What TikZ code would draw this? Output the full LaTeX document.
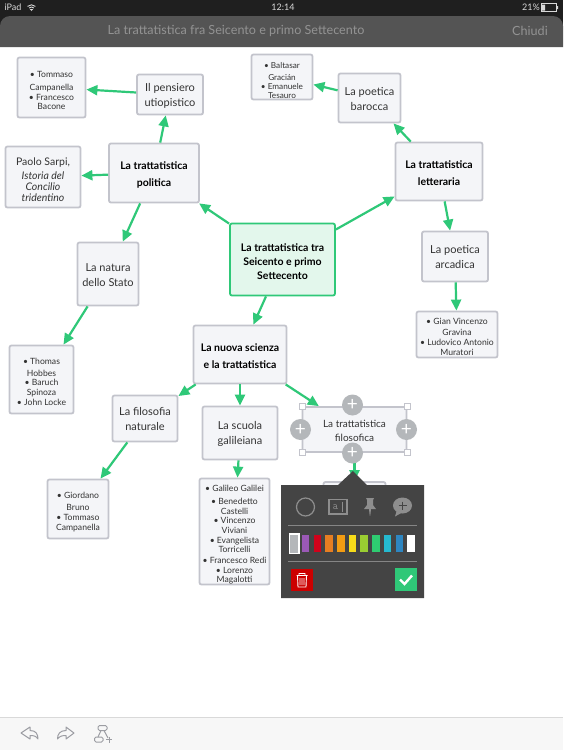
\documentclass[tikz,border=0pt]{standalone}
\usepackage{fontspec}
\setmainfont{Lato}
\usetikzlibrary{arrows.meta}
\definecolor{linkgreen}{HTML}{2FC878}
\definecolor{boxgray}{HTML}{C3C4CC}
\definecolor{boxfill}{HTML}{F4F5F8}
\definecolor{centerfill}{HTML}{E3F7EC}
\definecolor{panelgray}{HTML}{444444}
\definecolor{icongray}{HTML}{8E8E8E}
\definecolor{plusgray}{HTML}{B4B7BA}
\newcommand{\firstgap}[1]{\rule{0pt}{#1}}
\tikzset{
  plain/.style={draw=boxgray, fill=boxfill, line width=1.8pt, rounded corners=2pt, align=center, inner sep=0pt, text=black!80},
  box/.style={plain, font=\fontsize{11}{15}\selectfont},
  small/.style={plain, font=\fontsize{8.6}{9.6}\selectfont},
  main/.style={plain, font=\bfseries\fontsize{10.5}{17}\selectfont, text=black},
  link/.style={draw=linkgreen, line width=2.2pt, -{Triangle[length=11pt,width=10pt]}},
  handle/.style={draw=boxgray, fill=white, line width=0.8pt, minimum size=6pt, inner sep=0pt},
  plusb/.style={fill=plusgray, circle, minimum size=21pt, inner sep=0pt, text=white, font=\fontsize{19}{19}\selectfont},
  swatch/.style={minimum width=7.5pt, minimum height=17pt, inner sep=0pt},
  tool/.style={draw=boxgray!80!black, line width=1pt, line join=round},
  bartext/.style={text=gray!85, font=\fontsize{12.6}{14}\selectfont, inner sep=0pt},
  statustext/.style={text=white!85!black, font=\fontsize{9}{11}\selectfont, inner sep=0pt},
  paneltool/.style={draw=icongray, line width=1.2pt},
}
\begin{document}
\begin{tikzpicture}[x=1pt,y=-1pt]
    \useasboundingbox (0,0) rectangle (563,750);
    \fill[white] (0,0) rectangle (563,750);
    % Barre du haut
    \fill[black!88] (0,0) rectangle (563,30);
    \fill[black!67] (0,47) [rounded corners=10pt] -- (0,16) -- (563,16) [sharp corners] -- (563,47) -- cycle;
    \node[statustext] (ipad) at (13,7.5) {iPad};
    \node[statustext] (clock) at (283,7.5) {12:14};
    \node[statustext] (percent) at (531,7.5) {21\%};
    \draw[white!85!black, line width=0.9pt] (27.6,6.4) arc[start angle=225, end angle=315, radius=5.5] (29.2,8) arc[start angle=225, end angle=315, radius=3.3];
    \fill[white!85!black] (31.5,11) -- (29.8,9.2) -- (33.2,9.2) -- cycle;
    \draw[white!85!black, line width=0.6pt] (541,3.5) rectangle (556,11.5);
    \fill[white!85!black] (542,4.5) rectangle (545,10.5) (557,6) rectangle (558,9);
    \node[bartext] (title) at (236,31) {La trattatistica fra Seicento e primo Settecento};
    \node[bartext] (chiudi) at (530,31) {Chiudi};
    % Barre du bas
    \fill[black!3] (0,717) rectangle (563,750);
    \draw[black!15, line width=0.8pt] (0,717) -- (563,717);
    \draw[tool] (21,733) -- (30,727) -- (30,730.5) .. controls (36,730.5) and (38,734) .. (38,739) .. controls (36,736) and (34,735.5) .. (30,735.5) -- (30,739) -- cycle;
    \draw[tool] (74,733) -- (66,727) -- (66,730.5) .. controls (60,730.5) and (57.5,734) .. (57.5,739) .. controls (60,736) and (62,735.5) .. (66,735.5) -- (66,739) -- cycle;
    \draw[tool, rounded corners=1.5pt] (98,725.5) rectangle (107,730.5);
    \draw[tool, rounded corners=1.5pt] (94.5,737) rectangle (103,742);
    \draw[tool] (101,730.5) -- (98,737) (104,730.5) -- (108,738);
    \draw[tool] (106,739.5) -- (112,739.5) (109,736.5) -- (109,742.5);
    % Noeuds
    \node[main, fill=centerfill, draw=linkgreen, font=\bfseries\fontsize{10.5}{14}\selectfont, minimum width=105pt, minimum height=72pt] (center) at (282.5,259.5) {\firstgap{12pt}La trattatistica tra\\Seicento e primo\\Settecento};
    \node[main, minimum width=90pt, minimum height=59pt] (politica) at (154,173) {\firstgap{12pt}La trattatistica\\politica};
    \node[box, minimum width=66pt, minimum height=40pt] (pensiero) at (170,94.5) {\firstgap{10pt}Il pensiero\\utiopistico};
    \node[small, minimum width=68pt, minimum height=60pt] (tommaso) at (51.5,87.5) {\firstgap{12.5pt}• Tommaso\\[3.5pt]Campanella\\• Francesco\\Bacone};
    \node[box, minimum width=75pt, minimum height=61pt, font=\fontsize{10.5}{11}\selectfont] (sarpi) at (43,177) {\firstgap{13pt}Paolo Sarpi,\\[3pt]\textit{Istoria del}\\\textit{Concilio}\\\textit{tridentino}};
    \node[box, minimum width=61pt, minimum height=63pt] (natura) at (108,274) {\firstgap{10pt}La natura\\dello Stato};
    \node[small, minimum width=64pt, minimum height=68pt] (thomas) at (41.5,379.5) {\firstgap{10.5pt}• Thomas\\[2.5pt]Hobbes\\• Baruch\\Spinoza\\• John Locke};
    \node[small, minimum width=61pt, minimum height=45pt, font=\fontsize{8.2}{9.2}\selectfont] (baltasar) at (282,77) {\firstgap{13pt}• Baltasar\\[3pt]Gracián\\• Emanuele\\Tesauro};
    \node[box, minimum width=62pt, minimum height=49pt] (barocca) at (369.5,98) {\firstgap{10pt}La poetica\\barocca};
    \node[main, minimum width=87pt, minimum height=58pt] (letteraria) at (439,171.5) {\firstgap{12pt}La trattatistica\\letteraria};
    \node[box, minimum width=66pt, minimum height=50pt] (arcadica) at (455,256.5) {\firstgap{10pt}La poetica\\arcadica};
    \node[small, minimum width=81pt, minimum height=46pt] (gian) at (457,334.5) {\firstgap{10.5pt}• Gian Vincenzo\\[2pt]Gravina\\• Ludovico Antonio\\Muratori};
    \node[main, minimum width=93pt, minimum height=58pt] (scienza) at (240,354.5) {\firstgap{11pt}La nuova scienza\\e la trattatistica};
    \node[box, minimum width=65pt, minimum height=46pt] (naturale) at (145,418.5) {\firstgap{10pt}La filosofia\\naturale};
    \node[box, minimum width=75pt, minimum height=53pt] (galileiana) at (240,433) {\firstgap{10pt}La scuola\\galileiana};
    \node[box, minimum width=104pt, minimum height=45pt, font=\fontsize{10}{14.5}\selectfont] (filosofica) at (354.5,429.5) {\firstgap{10pt}La trattatistica\\filosofica};
    \node[small, minimum width=61pt, minimum height=59pt] (giordano) at (78,509) {\firstgap{12.5pt}• Giordano\\[2.5pt]Bruno\\• Tommaso\\Campanella};
    \node[small, minimum width=70pt, minimum height=106pt] (galileo) at (234.5,531.5) {\firstgap{13pt}• Galileo Galilei\\[3.5pt]• Benedetto\\Castelli\\• Vincenzo\\Viviani\\• Evangelista\\Torricelli\\[1.5pt]• Francesco Redi\\• Lorenzo\\Magalotti};
    \node[box, minimum width=62pt, minimum height=40pt] (nascosto) at (354.5,502) {};
    % Connessioni
    \draw[link] (center) -- (politica);
    \draw[link] (center) -- (letteraria);
    \draw[link] (center) -- (scienza);
    \draw[link] (politica) -- (pensiero);
    \draw[link] (politica) -- (sarpi);
    \draw[link] (politica) -- (natura);
    \draw[link] (pensiero) -- (tommaso);
    \draw[link] (natura) -- (thomas);
    \draw[link] (letteraria) -- (barocca);
    \draw[link] (letteraria) -- (arcadica);
    \draw[link] (barocca) -- (baltasar);
    \draw[link] (arcadica) -- (gian);
    \draw[link] (scienza) -- (naturale);
    \draw[link] (scienza) -- (galileiana);
    \draw[link] (scienza) -- (filosofica);
    \draw[link] (naturale) -- (giordano);
    \draw[link] (galileiana) -- (galileo);
    \draw[link] (filosofica) -- (nascosto);
    % Selezione
    \foreach \hx in {302,407} \foreach \hy in {406,452}
        \node[handle] at (\hx,\hy) {};
    \node[plusb] (plusN) at (352.5,405) {+};
    \node[plusb] (plusS) at (352.5,453) {+};
    \node[plusb] (plusW) at (300.5,429.5) {+};
    \node[plusb] (plusE) at (406.5,429.5) {+};
    % Pannello
    \fill[panelgray] (281,485) -- (338,485) -- (353,471) -- (367,485) -- (424,485) -- (424,598) -- (281,598) -- cycle;
    \draw[paneltool] (305.5,507) circle (9);
    \draw[paneltool] (329,499.5) rectangle (347,514);
    \node[text=icongray, font=\fontsize{11}{11}\selectfont\ttfamily, inner sep=0pt] (letter) at (335.5,507) {a};
    \draw[icongray, line width=1pt] (342,501.5) -- (342,512);
    \fill[icongray] (366,498) -- (374,498) -- (373,500) -- (373,505) -- (376,509) -- (371,509) -- (370.3,515.5) -- (369.7,515.5) -- (369,509) -- (364,509) -- (367,505) -- (367,500) -- cycle;
    \fill[icongray] (402.5,505.5) ellipse (9.5 and 8);
    \fill[icongray] (397,510) -- (395,516.5) -- (403,512) -- cycle;
    \draw[panelgray, line width=1pt] (398.5,505.5) -- (406.5,505.5) (402.5,501.5) -- (402.5,509.5);
    \draw[white!35!panelgray, line width=0.7pt] (288,525) -- (417,525) (288,561.5) -- (417,561.5);
    \node[draw=white, line width=1.5pt, fill=plusgray, minimum width=9.5pt, minimum height=19.5pt, inner sep=0pt] (swatch0) at (294,543.5) {};
    \foreach \sx/\scol in {305.7/9B59B6, 317.4/D0021B, 329.1/E67E22, 340.8/F39C12, 352.5/F7DC1A, 364.2/9ACD32, 375.9/2ECC71, 387.6/25B9D0, 399.3/2E86C1, 411/FFFFFF} {
        \definecolor{swatchcol}{HTML}{\scol}
        \node[swatch, fill=swatchcol] at (\sx,543.5) {};
    }
    \fill[red!80!black] (291,569) rectangle (313,591);
    \draw[white, line width=0.9pt] (296.5,575.5) -- (307.5,575.5) (299,575.5) -- (299,573.5) -- (305,573.5) -- (305,575.5) (297.5,575.5) -- (298,587) -- (306,587) -- (306.5,575.5) (300,578) -- (300,585) (302,578) -- (302,585) (304,578) -- (304,585);
    \fill[linkgreen] (395,568) rectangle (417,591);
    \draw[white, line width=2.4pt] (400,579.5) -- (404.5,584) -- (412,575.5);
\end{tikzpicture}
\end{document}
